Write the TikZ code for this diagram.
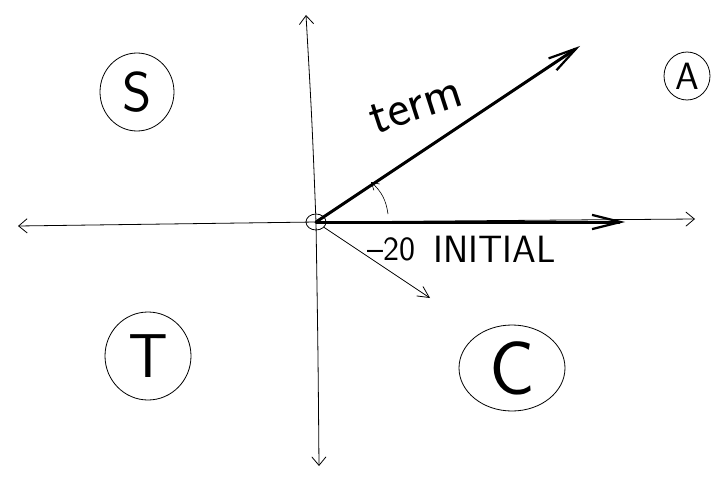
\documentclass[tikz,border=0pt]{standalone}
\usepackage{tikz}
\usetikzlibrary{arrows.meta,shapes.geometric}

\begin{document}
\begin{tikzpicture}[x=1pt, y=-1pt,
  axis/.style={thick, line cap=round},
  vec/.style={line width=3pt, line cap=round, -{Straight Barb[length=10mm, width=5mm, line width=2.2pt]}},
  thinvec/.style={thick, -{Straight Barb[length=4mm, width=4mm]}},
  quad/.style={draw, thick, ellipse, inner sep=0pt, font=\sffamily\fontsize{56}{60}\selectfont},
  lbl/.style={font=\sffamily\fontsize{38}{42}\selectfont, anchor=base west, inner sep=0pt}]
\useasboundingbox (0,0) rectangle (722,476);
% axes
\coordinate (left) at (18,226);
\coordinate (right) at (695,219);
\coordinate (top) at (306,15);
\coordinate (bottom) at (319,466);
\coordinate (o) at (316,222);
\draw[axis, -{Straight Barb[length=3mm, width=5mm]}] (o) -- (left);
\draw[axis, -{Straight Barb[length=3mm, width=5mm]}] (o) -- (right);
\draw[axis, -{Straight Barb[length=3mm, width=5mm]}] (o) .. controls (312,120) .. (top);
\draw[axis, -{Straight Barb[length=3mm, width=5mm]}] (o) .. controls (318,350) .. (bottom);
\node[draw, thick, ellipse, minimum width=20pt, minimum height=16pt, inner sep=0pt] (dot) at (o) {};
% vectors
\coordinate (termend) at (580,46);
\coordinate (initend) at (625,222);
\draw[vec] (o) -- (termend);
\draw[vec] (o) -- (initend);
\coordinate (down) at (430,298);
\draw[thinvec] (dot) -- (down);
% angle
\coordinate (a1) at (388,214);
\coordinate (a2) at (371,182);
\draw[semithick, -{Straight Barb[length=2.5mm, width=3mm]}] (a1) to[bend right=20] (a2);
% labels
\node[rotate=18, font=\sffamily\fontsize{52}{56}\selectfont] (term) at (416,106) {term};
\node[lbl, font=\sffamily\fontsize{34}{38}\selectfont] (minus) at (367,260) {--20};
\node[lbl] (init) at (433,262) {INITIAL};
% quadrants
\node[quad, minimum width=74pt, minimum height=78pt] (S) at (137,92) {S};
\node[quad, minimum width=46pt, minimum height=48pt, font=\sffamily\fontsize{38}{42}\selectfont] (A) at (687,76) {A};
\node[quad, minimum width=86pt, minimum height=88pt, font=\sffamily\fontsize{62}{66}\selectfont] (T) at (148,356) {T};
\node[quad, minimum width=106pt, minimum height=86pt, font=\sffamily\fontsize{76}{80}\selectfont] (C) at (512,368) {C};
\end{tikzpicture}
\end{document}
